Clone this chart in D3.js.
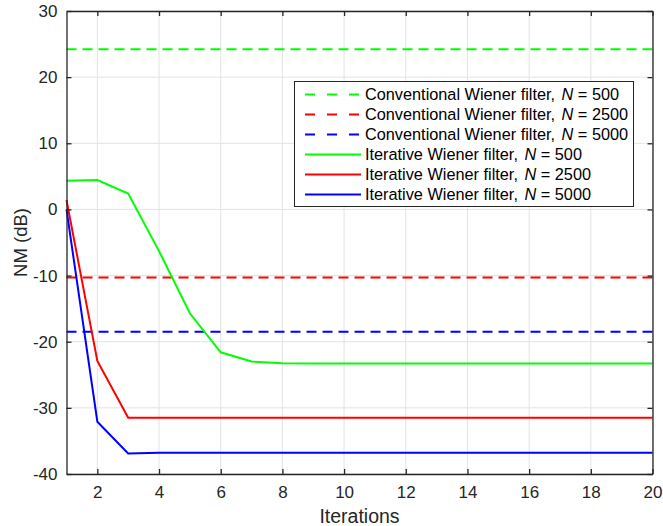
<!DOCTYPE html>
<html>
<head>
<meta charset="utf-8">
<script src="https://cdn.jsdelivr.net/npm/d3@7"></script>
<style>
  body { margin: 0; background: #fff; }
  svg { display: block; font-family: "Liberation Sans", Arial, Helvetica, sans-serif; }
</style>
</head>
<body>
<svg id="chart" width="663" height="526"></svg>
<script>
// Iteration index and normalized misalignment (dB) per filter
const iterations = d3.range(1, 21);
const iterN500  = [4.35, 4.45, 2.4, -6.3, -15.7, -21.6, -23.0, -23.25, -23.3, -23.3, -23.3, -23.3, -23.3, -23.3, -23.3, -23.3, -23.3, -23.3, -23.3, -23.3];
const iterN2500 = [1.4, -22.9, -31.5, -31.5, -31.5, -31.5, -31.5, -31.5, -31.5, -31.5, -31.5, -31.5, -31.5, -31.5, -31.5, -31.5, -31.5, -31.5, -31.5, -31.5];
const iterN5000 = [0.0, -32.1, -36.9, -36.8, -36.8, -36.8, -36.8, -36.8, -36.8, -36.8, -36.8, -36.8, -36.8, -36.8, -36.8, -36.8, -36.8, -36.8, -36.8, -36.8];
const convN500 = 24.2;
const convN2500 = -10.3;
const convN5000 = -18.5;

const xTicks = [2, 4, 6, 8, 10, 12, 14, 16, 18, 20];
const yTicks = [-40, -30, -20, -10, 0, 10, 20, 30];

const legendLabels = [
  ["Conventional Wiener filter, ", "500"],
  ["Conventional Wiener filter, ", "2500"],
  ["Conventional Wiener filter, ", "5000"],
  ["Iterative Wiener filter, ", "500"],
  ["Iterative Wiener filter, ", "2500"],
  ["Iterative Wiener filter, ", "5000"]
];

const GREEN = "#00ff00", RED = "#ff0000", BLUE = "#0000ff";
const AXIS = "#262626";

const svg = d3.select("#chart");
const m = { left: 66.5, right: 652.5, top: 11, bottom: 474 };

const x = d3.scaleLinear().domain([1, 20]).range([m.left, m.right]);
const y = d3.scaleLinear().domain([-40, 30]).range([m.bottom, m.top]);

// grid
const grid = svg.append("g");
grid.selectAll(".gx").data(xTicks).join("line")
  .attr("x1", d => x(d)).attr("x2", d => x(d))
  .attr("y1", m.top).attr("y2", m.bottom)
  .attr("stroke", "#e3e3e3").attr("stroke-width", 1);
grid.selectAll(".gy").data(yTicks).join("line")
  .attr("x1", m.left).attr("x2", m.right)
  .attr("y1", d => y(d)).attr("y2", d => y(d))
  .attr("stroke", "#e3e3e3").attr("stroke-width", 1);

// series
const series = [
  { vals: iterations.map(() => convN500), color: GREEN, dash: "10,6" },
  { vals: iterations.map(() => convN2500), color: RED, dash: "10,6" },
  { vals: iterations.map(() => convN5000), color: BLUE, dash: "10,6" },
  { vals: iterN500, color: GREEN, dash: null },
  { vals: iterN2500, color: RED, dash: null },
  { vals: iterN5000, color: BLUE, dash: null }
];

const line = d3.line().x((d, i) => x(iterations[i])).y(d => y(d));

svg.append("g").selectAll("path").data(series).join("path")
  .attr("d", d => line(d.vals))
  .attr("fill", "none")
  .attr("stroke", d => d.color)
  .attr("stroke-width", 2)
  .attr("stroke-dasharray", d => d.dash);

// axes (box with inward ticks on all sides)
const fmt = d => d3.format("d")(d).replace("−", "-");
const axB = svg.append("g").attr("transform", `translate(0,${m.bottom})`)
  .call(d3.axisBottom(x).tickValues(xTicks).tickSizeInner(-5).tickSizeOuter(0).tickPadding(12).tickFormat(fmt));
const axT = svg.append("g").attr("transform", `translate(0,${m.top})`)
  .call(d3.axisTop(x).tickValues(xTicks).tickSizeInner(-5).tickSizeOuter(0).tickFormat(""));
const axL = svg.append("g").attr("transform", `translate(${m.left},0)`)
  .call(d3.axisLeft(y).tickValues(yTicks).tickSizeInner(-5).tickSizeOuter(0).tickPadding(9).tickFormat(fmt));
const axR = svg.append("g").attr("transform", `translate(${m.right},0)`)
  .call(d3.axisRight(y).tickValues(yTicks).tickSizeInner(-5).tickSizeOuter(0).tickFormat(""));

[axB, axT, axL, axR].forEach(a => {
  a.select(".domain").attr("stroke", AXIS).attr("stroke-width", 1.3);
  a.selectAll(".tick line").attr("stroke", AXIS).attr("stroke-width", 1.3);
  a.selectAll("text").attr("fill", AXIS).style("font-size", "17px")
    .style("font-family", "'Liberation Sans', Arial, sans-serif");
});
axB.selectAll("text").attr("dy", "0.71em");

// axis titles
svg.append("text").attr("x", (m.left + m.right) / 2).attr("y", 523)
  .attr("text-anchor", "middle").attr("fill", AXIS).style("font-size", "19.5px")
  .text("Iterations");
svg.append("text").attr("transform", `translate(27,${(m.top + m.bottom) / 2}) rotate(-90)`)
  .attr("text-anchor", "middle").attr("fill", AXIS).style("font-size", "18.5px")
  .text("NM (dB)");

// legend
const lg = svg.append("g");
lg.append("rect").attr("x", 294.5).attr("y", 81.5).attr("width", 339).attr("height", 125)
  .attr("fill", "#fff").attr("stroke", AXIS).attr("stroke-width", 1);
const rowY = i => 94.5 + i * 20;
legendLabels.forEach((lab, i) => {
  const s = series[i];
  lg.append("line").attr("x1", 305).attr("x2", 361)
    .attr("y1", rowY(i)).attr("y2", rowY(i))
    .attr("stroke", s.color).attr("stroke-width", 2)
    .attr("stroke-dasharray", s.dash ? "10,12" : null);
  const t = lg.append("text").attr("x", 365).attr("y", rowY(i)).attr("dy", "0.35em")
    .attr("fill", "#000").style("font-size", "16.3px");
  t.append("tspan").text(lab[0]);
  t.append("tspan").attr("dx", 2).style("font-style", "italic").text("N");
  t.append("tspan").text(" = " + lab[1]);
});
</script>
</body>
</html>
